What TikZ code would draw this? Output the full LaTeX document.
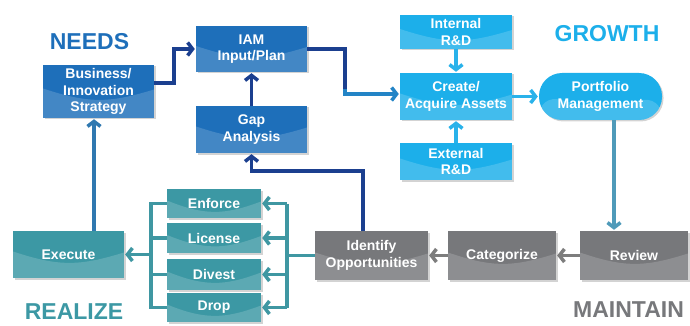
\documentclass[tikz,border=0pt]{standalone}
\usepackage{fontspec}
\setmainfont{Liberation Sans}
\usetikzlibrary{arrows.meta,shadows,calc}
\definecolor{dkblue}{HTML}{1E6FBA}
\definecolor{ltblue}{HTML}{1CAFEA}
\definecolor{tealbox}{HTML}{3C98A4}
\definecolor{gry}{HTML}{77787B}
\definecolor{navy}{HTML}{1B3F8F}
\definecolor{tealline}{HTML}{3F97A2}
\definecolor{ltline}{HTML}{29B2EA}
\definecolor{gryline}{HTML}{7D7D7D}
\definecolor{midline}{HTML}{2F78B0}
\tikzset{
  boxbase/.style={rectangle, inner sep=0pt, align=center, text=white,
    font=\fontsize{14}{16.5}\selectfont\bfseries,
    drop shadow={opacity=0.35, shadow xshift=1.5pt, shadow yshift=-1.5pt},
    path picture={\fill[white,opacity=.17] (path picture bounding box.south west) -- ([yshift=3pt]path picture bounding box.west) .. controls ([yshift=-12pt,xshift=-10pt]path picture bounding box.center) and ([yshift=-12pt,xshift=10pt]path picture bounding box.center) .. ([yshift=2pt]path picture bounding box.east) -- (path picture bounding box.south east) -- cycle;}},
  dkbox/.style={boxbase, fill=dkblue},
  ltbox/.style={boxbase, fill=ltblue},
  tlbox/.style={boxbase, fill=tealbox},
  grbox/.style={boxbase, fill=gry},
  conn/.style={line width=3.5pt},
  arr/.style={conn, shorten >=1pt, -{Straight Barb[length=5pt,width=13pt,line width=3.5pt]}},
  heading/.style={font=\fontsize{23}{26}\selectfont\bfseries, inner sep=0pt}
}
\begin{document}
\begin{tikzpicture}[x=1pt,y=-1pt]
\useasboundingbox (0,0) rectangle (690,326);
% headings
\node[heading, text=dkblue] (needs) at (89.5,42) {NEEDS};
\node[heading, text=ltblue] (growth) at (607,34) {GROWTH};
\node[heading, text=tealbox] (realize) at (74,312) {REALIZE};
\node[heading, text=gry] (maintain) at (628.5,310) {MAINTAIN};
% boxes
\node[dkbox, minimum width=111pt, minimum height=53pt] (business) at (98.5,91.5) {Business/\\Innovation\\Strategy};
\node[dkbox, minimum width=111pt, minimum height=46pt] (iam) at (251.5,49) {IAM\\Input/Plan};
\node[dkbox, minimum width=111pt, minimum height=47pt] (gap) at (251.5,129.5) {Gap\\Analysis};
\node[ltbox, minimum width=112pt, minimum height=34pt] (internal) at (456,32) {Internal\\R\&D};
\node[ltbox, minimum width=112pt, minimum height=47pt] (create) at (456,96.5) {Create/\\Acquire Assets};
\node[ltbox, minimum width=112pt, minimum height=37pt] (external) at (456,161.5) {External\\R\&D};
\node[ltbox, minimum width=123pt, minimum height=47pt, rounded corners=23pt] (portfolio) at (600.5,96.5) {Portfolio\\Management};
\node[grbox, minimum width=108pt, minimum height=49pt] (review) at (634,255.5) {Review};
\node[grbox, minimum width=108pt, minimum height=49pt] (categorize) at (502,255.5) {Categorize};
\node[grbox, minimum width=113pt, minimum height=49pt] (identify) at (371.5,255.5) {Identify\\Opportunities};
\node[tlbox, minimum width=111pt, minimum height=47pt] (execute) at (68.5,254.5) {Execute};
\node[tlbox, minimum width=94pt, minimum height=29pt] (enforce) at (214,203.5) {Enforce};
\node[tlbox, minimum width=94pt, minimum height=30pt] (license) at (214,238) {License};
\node[tlbox, minimum width=94pt, minimum height=31pt] (divest) at (214,274.5) {Divest};
\node[tlbox, minimum width=94pt, minimum height=29pt] (drop) at (214,307.5) {Drop};
% bar coordinates
\coordinate (lb) at (151,254.5);
\coordinate (rb) at (287,255.5);
% connectors: needs
\draw[arr, midline] ([xshift=25.5pt]execute.north) -- ([xshift=-4.5pt]business.south);
\draw[arr, navy] ([yshift=8.5pt]business.east) -- ++(20,0) |- (iam.west);
\draw[arr, navy] (gap.north) -- (iam.south);
\draw[arr, navy] ([xshift=-8.5pt]identify.north) -- ++(0,-60) -| (gap.south);
\draw[arr, navy!40!ltline] (iam.east) -- ++(38,0) |- ([yshift=2.5pt]create.west);
\draw[conn, navy] (iam.east) -- ++(38,0) -- ++(0,40);
% growth
\draw[arr, ltline] (internal.south) -- (create.north);
\draw[arr, ltline] (external.north) -- (create.south);
\draw[arr, ltline] (create.east) -- (portfolio.west);
\draw[arr, ltline!55!gryline] ([xshift=13.5pt]portfolio.south) -- ([xshift=-20pt]review.north);
% maintain
\draw[arr, gryline] (review.west) -- (categorize.east);
\draw[arr, gryline] (categorize.west) -- (identify.east);
% realize
\draw[conn, tealline] (identify.west) -- (rb);
\draw[conn, tealline] (enforce.east -| rb) -- (drop.east -| rb);
\draw[arr, tealline] (enforce.east -| rb) -- (enforce.east);
\draw[arr, tealline] (license.east -| rb) -- (license.east);
\draw[arr, tealline] (divest.east -| rb) -- (divest.east);
\draw[arr, tealline] (drop.east -| rb) -- (drop.east);
\draw[conn, tealline] (enforce.west) -- (enforce.west -| lb) -- (drop.west -| lb) -- (drop.west);
\draw[conn, tealline] (license.west) -- (license.west -| lb);
\draw[conn, tealline] (divest.west) -- (divest.west -| lb);
\draw[arr, tealline] (lb) -- (execute.east);
\end{tikzpicture}
\end{document}
